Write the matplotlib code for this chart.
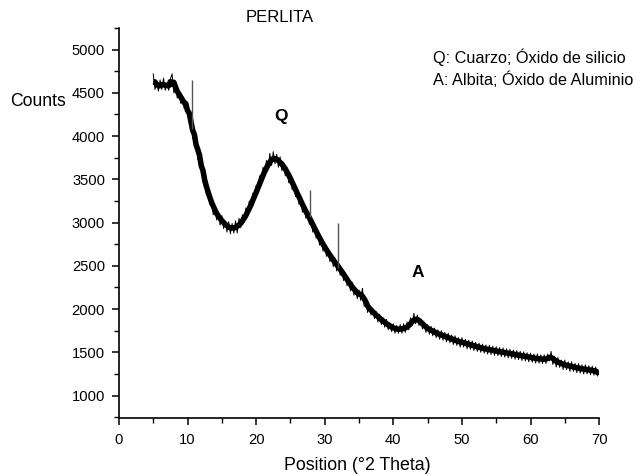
import numpy as np
import pandas as pd
import matplotlib
matplotlib.use('Agg')
from matplotlib import pyplot as plt
from matplotlib.ticker import MultipleLocator

plt.rcParams['font.family'] = ['Liberation Sans', 'DejaVu Sans']

# patron de difraccion, paso de 0.25 grados (5 a 70)
theta_start = 5.0
theta_step = 0.25
counts = [
    4720, 4540, 4620, 4520,  4650, 4540, 4670, 4530,  4610, 4530, 4660, 4720,
    4500, 4610, 4440, 4520,  4380, 4470, 4320, 4380,  4330, 4150, 4200, 3990,
    3930, 3950, 3730, 3760,  3670, 3470, 3510, 3320,  3370, 3210, 3270, 3090,
    3190, 3030, 3110, 2970,  3080, 2930, 3020, 2890,  3010, 2870, 2990, 2880,
    3020, 2880, 3050, 2940,  3090, 3000, 3170, 3070,  3250, 3160, 3340, 3270,
    3430, 3350, 3540, 3460,  3640, 3540, 3720, 3620,  3800, 3660, 3820, 3680,
    3790, 3640, 3760, 3600,  3700, 3540, 3640, 3460,  3560, 3380, 3460, 3300,
    3380, 3210, 3300, 3120,  3210, 3050, 3140, 2980,  3060, 2890, 2980, 2820,
    2900, 2740, 2830, 2670,  2760, 2610, 2700, 2550,  2640, 2490, 2590, 2440,
    2540, 2390, 2470, 2330,  2420, 2270, 2350, 2210,  2310, 2160, 2250, 2120,
    2220, 2100, 2240, 2030,  2100, 1960, 2050, 1930,  2010, 1890, 1970, 1850,
    1940, 1820, 1900, 1790,  1880, 1760, 1840, 1740,  1830, 1720, 1810, 1720,
    1820, 1720, 1830, 1730,  1850, 1760, 1900, 1810,  1950, 1830, 1930, 1810,
    1890, 1770, 1850, 1730,  1820, 1710, 1800, 1690,  1780, 1670, 1760, 1650,
    1750, 1640, 1730, 1620,  1720, 1610, 1700, 1590,  1690, 1580, 1670, 1560,
    1670, 1560, 1650, 1540,  1640, 1535, 1630, 1520,  1615, 1510, 1605, 1500,
    1595, 1490, 1585, 1480,  1580, 1475, 1570, 1465,  1565, 1460, 1555, 1450,
    1550, 1445, 1540, 1435,  1535, 1430, 1525, 1420,  1520, 1415, 1510, 1405,
    1505, 1400, 1495, 1390,  1490, 1385, 1480, 1375,  1480, 1375, 1470, 1370,
    1470, 1370, 1480, 1400,  1510, 1360, 1450, 1330,  1440, 1325, 1410, 1300,
    1410, 1300, 1390, 1280,  1390, 1280, 1370, 1265,  1370, 1260, 1355, 1250,
    1355, 1250, 1345, 1240,  1340, 1235, 1330, 1225,  1280,
]

# picos finos (lineas verticales)
spike_pos = [10.6, 27.8, 32.0]
spike_base = [4080, 3060, 2470]
spike_top = [4650, 3380, 3000]

labels = ['Q', 'A']
label_x = [23.6, 43.5]
label_y = [4230, 2420]

legend_lines = ['Q: Cuarzo; Óxido de silicio', 'A: Albita; Óxido de Aluminio']

theta = theta_start + theta_step * np.arange(len(counts))
# banda central (media movil) para imitar el grosor del ruido
core = pd.Series(counts).rolling(4, center=True, min_periods=1).mean()

fig = plt.figure(figsize=(6.36, 4.75), dpi=100)
ax = fig.add_axes([0.187, 0.12, 0.755, 0.821])

ax.plot(theta, core, color='black', lw=4.0, solid_capstyle='butt')
ax.plot(theta, counts, color='black', lw=0.7)
ax.vlines(spike_pos, spike_base, spike_top, color='#555555', lw=1.0)

for lab, x, y in zip(labels, label_x, label_y):
    ax.text(x, y, lab, ha='center', va='center', fontsize=12.5, fontweight='bold')

ax.set_xlim(0, 70)
ax.set_ylim(740, 5250)
ax.xaxis.set_major_locator(MultipleLocator(10))
ax.xaxis.set_minor_locator(MultipleLocator(5))
ax.yaxis.set_major_locator(MultipleLocator(500))
ax.yaxis.set_minor_locator(MultipleLocator(250))
ax.set_yticks(np.arange(1000, 5001, 500))
ax.tick_params(which='major', length=5, width=1.1, labelsize=10.6)
ax.tick_params(which='minor', length=3.5, width=1.0)
ax.tick_params(axis='y', which='major', pad=5)
ax.tick_params(axis='x', which='major', pad=5.5)
for s in ['top', 'right']:
    ax.spines[s].set_visible(False)
for s in ['left', 'bottom']:
    ax.spines[s].set_linewidth(1.2)

fig.text(357 / 636, 1 - 465 / 475, 'Position (°2 Theta)', fontsize=12.8, ha='center', va='center')
fig.text(10 / 636, 1 - 102 / 475, 'Counts', fontsize=12.7, ha='left', va='center')
fig.text(280 / 636, 1 - 18 / 475, 'PERLITA', fontsize=12, ha='center', va='center')
fig.text(433 / 636, 1 - 57 / 475, legend_lines[0], fontsize=11.7, ha='left', va='center')
fig.text(433 / 636, 1 - 80 / 475, legend_lines[1], fontsize=11.7, ha='left', va='center')

fig.savefig('out.png', dpi=100)
